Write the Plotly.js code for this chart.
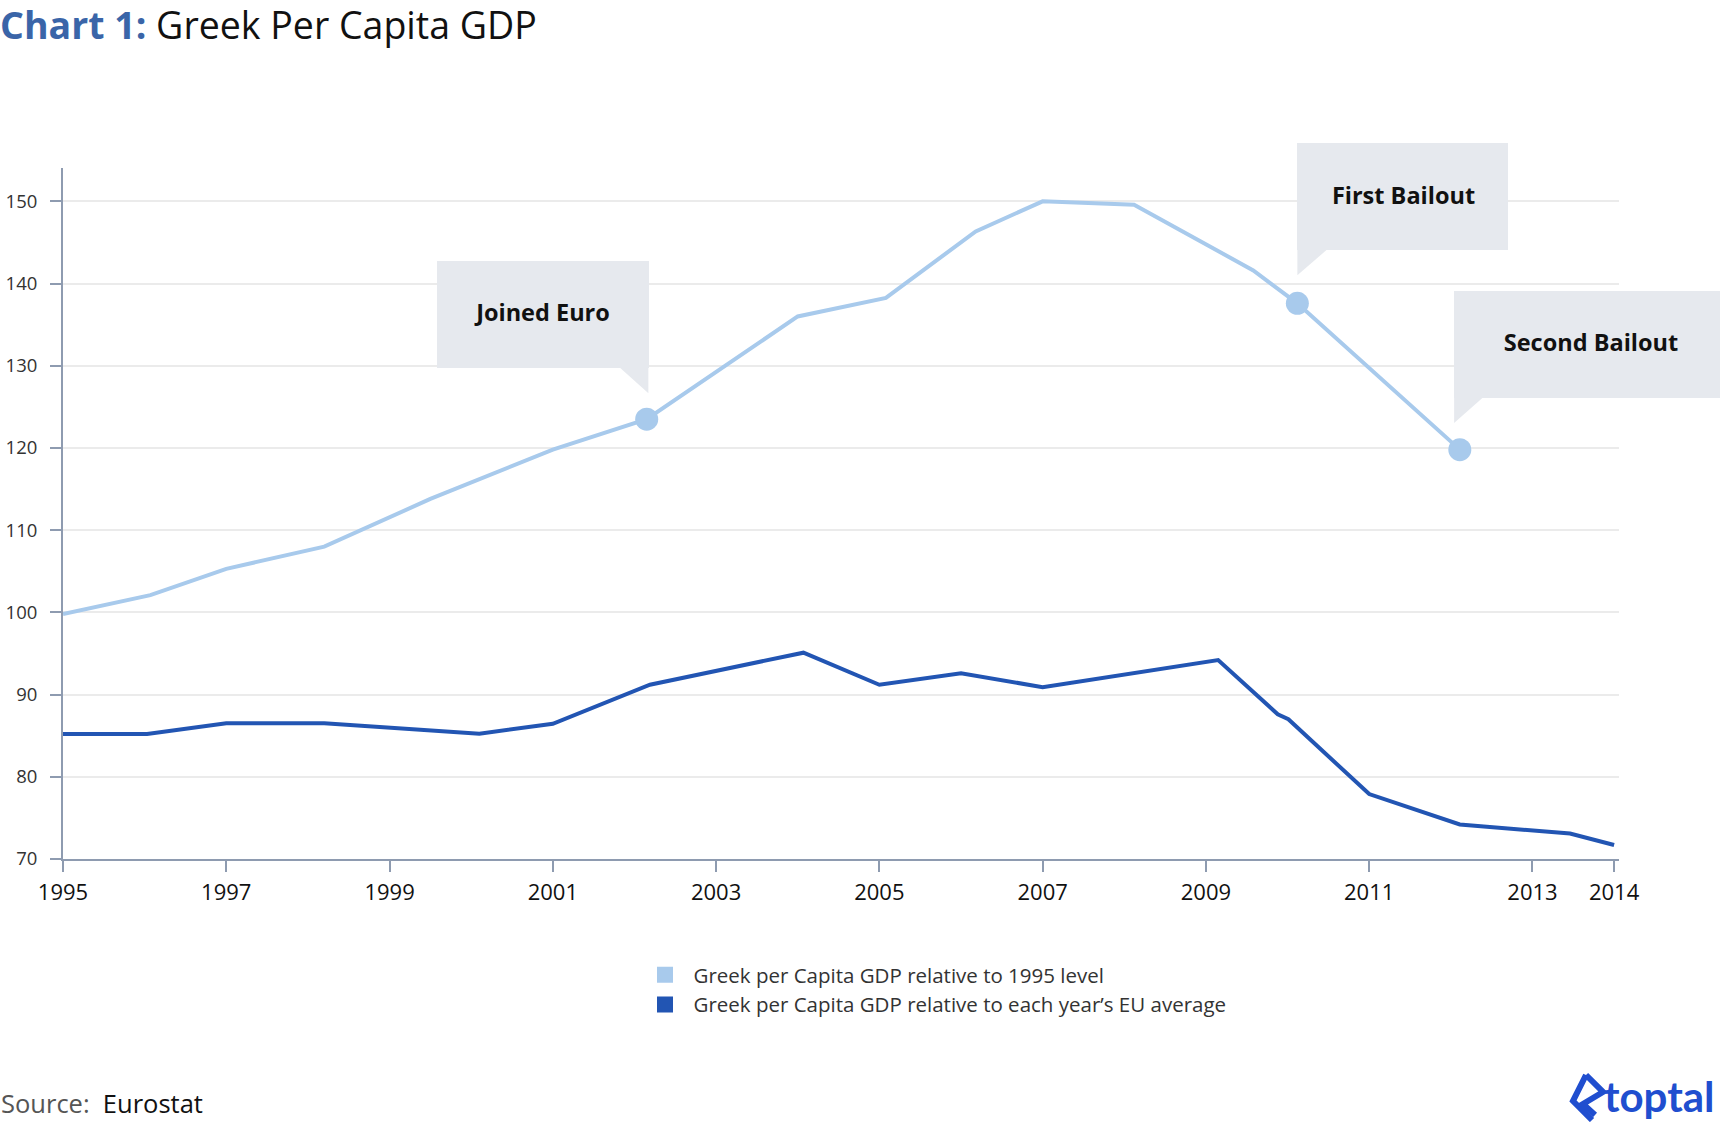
<!DOCTYPE html>
<html><head><meta charset="utf-8">
<script src="https://cdn.plot.ly/plotly-3.0.1.min.js"></script>
<style>html,body{margin:0;padding:0;background:#fff;} #chart{width:1720px;height:1122px;}</style>
</head><body><div id="chart"></div>
<script>
// ---- data ----
const lightYears  = [1995, 1996.07, 1997, 1998.2, 1999.5, 2001, 2002.15, 2004, 2005.08, 2006.18, 2007, 2008.12, 2009.58, 2010.12, 2012.11];
const lightValues = [99.8, 102.1, 105.3, 108.0, 113.8, 119.8, 123.5, 136.0, 138.25, 146.35, 150.0, 149.6, 141.6, 137.6, 119.8];
const darkYears   = [1995, 1996.03, 1997, 1998.2, 2000.1, 2001, 2002.19, 2004.07, 2005, 2006, 2007, 2009.15, 2009.88, 2010.01, 2011, 2012.11, 2013.46, 2014];
const darkValues  = [85.2, 85.2, 86.5, 86.5, 85.25, 86.45, 91.2, 95.1, 91.2, 92.6, 90.9, 94.2, 87.6, 87.0, 77.9, 74.2, 73.1, 71.7];
const eventLabels = ['Joined Euro', 'First Bailout', 'Second Bailout'];
const eventIndex  = [6, 13, 14];
const seriesNames = ['Greek per Capita GDP relative to 1995 level', 'Greek per Capita GDP relative to each year’s EU average'];
const xTickVals = [1995, 1997, 1999, 2001, 2003, 2005, 2007, 2009, 2011, 2013, 2014];
const xTickText = ['1995', '1997', '1999', '2001', '2003', '2005', '2007', '2009', '2011', '2013', '2014'];
const yTickVals = [70, 80, 90, 100, 110, 120, 130, 140, 150];
const yTickText = ['70', '80', '90', '100', '110', '120', '130', '140', '150'];

// ---- styles / layout ----
const W = 1720, H = 1122;
const M = {l: 63, r: 101, t: 168, b: 263, autoexpand: false};
const PW = W - M.l - M.r, PH = H - M.t - M.b;
const LIGHT = '#A8CAEC', DARK = '#2255B3', AXIS = '#8E9BB0', GRID = '#EBEBEB', BOX = '#E6E9EE';
const FONT = '"Open Sans", Lato, sans-serif';
const pxX = px => (px - M.l) / PW;          // pixel -> paper (decorations only)
const pxY = py => (H - M.b - py) / PH;

// callout geometry relative to the annotated point (pixels, +y = up)
const callouts = [
  {xanchor: 'right', xshift: 2,    yshift: 51,   width: 212, textShift: 3, tail: 'M-27.3,52L1.7,52L1.7,26Z'},
  {xanchor: 'left',  xshift: 0,    yshift: 53,   width: 211, textShift: 2, tail: 'M0,54L30,54L0,28Z'},
  {xanchor: 'left',  xshift: -5.7, yshift: 51.7, width: 272, textShift: 2, tail: 'M-5.7,52.7L23.7,52.7L-5.7,26.7Z'}
];
const BOXH = 107;

const evX = eventIndex.map(i => lightYears[i]);
const evY = eventIndex.map(i => lightValues[i]);

const traces = [
  {x: lightYears, y: lightValues, mode: 'lines', line: {color: LIGHT, width: 4}, showlegend: false, hoverinfo: 'skip'},
  {x: darkYears, y: darkValues, mode: 'lines', line: {color: DARK, width: 4}, showlegend: false, hoverinfo: 'skip'},
  {x: evX, y: evY, mode: 'markers', marker: {color: LIGHT, size: 23}, showlegend: false, hoverinfo: 'skip', cliponaxis: false},
  {x: [null], y: [null], mode: 'markers', name: seriesNames[0], marker: {symbol: 'square', size: 16, color: LIGHT}, legendgroup: 'a'},
  {x: [null], y: [null], mode: 'markers', name: seriesNames[1], marker: {symbol: 'square', size: 16, color: DARK}, legendgroup: 'b'}
];

const annotations = [];
eventLabels.forEach((t, k) => {
  const c = callouts[k];
  // box
  annotations.push({
    text: '&nbsp;', x: evX[k], y: evY[k], xref: 'x', yref: 'y',
    xanchor: c.xanchor, yanchor: 'bottom', xshift: c.xshift, yshift: c.yshift,
    width: c.width, height: BOXH, bgcolor: BOX, borderpad: 0, borderwidth: 0, showarrow: false,
    font: {family: FONT, size: 10, color: BOX}
  });
  // label
  annotations.push({
    text: '<b>' + t + '</b>', x: evX[k], y: evY[k], xref: 'x', yref: 'y',
    xanchor: c.xanchor, yanchor: 'middle', xshift: c.xshift, yshift: c.yshift + BOXH / 2 + c.textShift,
    width: c.width, showarrow: false, align: 'center', borderpad: 0,
    font: {family: FONT, size: 23.5, color: '#111'}
  });
});
annotations.push({
  text: '<span style="color:#555">Source:</span>&nbsp;&nbsp;Eurostat', xref: 'paper', yref: 'paper',
  x: pxX(0), y: pxY(1103), xanchor: 'left', yanchor: 'middle', showarrow: false, borderpad: 0,
  font: {family: FONT, size: 25.5, color: '#111'}
});
annotations.push({
  text: '<b>toptal</b>', xref: 'paper', yref: 'paper', x: pxX(1602), y: pxY(1096),
  xanchor: 'left', yanchor: 'middle', showarrow: false,
  font: {family: 'Lato, sans-serif', size: 42, color: '#204ECF'}
});

const shapes = eventLabels.map((t, k) => ({
  type: 'path', xref: 'x', yref: 'y', xsizemode: 'pixel', ysizemode: 'pixel',
  xanchor: evX[k], yanchor: evY[k], path: callouts[k].tail,
  fillcolor: BOX, line: {width: 0}, layer: 'above'
}));
// toptal icon (decoration)
const iconPts = [[1586,1075],[1573,1101],[1592,1120]];
const iconPts2 = [[1586,1075],[1603,1092],[1583,1104],[1595,1115]];
const toPath = pts => pts.map((p, i) => (i ? 'L' : 'M') + pxX(p[0]).toFixed(5) + ',' + pxY(p[1]).toFixed(5)).join('');
shapes.push({type: 'path', xref: 'paper', yref: 'paper', path: toPath(iconPts), line: {color: '#204ECF', width: 6}});
shapes.push({type: 'path', xref: 'paper', yref: 'paper', path: toPath(iconPts2), line: {color: '#204ECF', width: 6}});

const layout = {
  width: W, height: H, margin: M, paper_bgcolor: '#fff', plot_bgcolor: '#fff',
  font: {family: FONT, color: '#333'},
  title: {
    text: '<b><span style="color:#3A65A8">Chart 1:</span></b> Greek Per Capita GDP',
    xref: 'container', yref: 'container', x: 0, xanchor: 'left', y: 1 - 26 / H, yanchor: 'middle',
    font: {family: FONT, size: 37.5, color: '#111'}, pad: {l: 0, t: 0, r: 0, b: 0}
  },
  xaxis: {
    range: [1995, 2014.06], tickvals: xTickVals, ticktext: xTickText, tickangle: 0,
    showline: true, linecolor: AXIS, linewidth: 2, ticks: 'outside', ticklen: 11, tickwidth: 2, tickcolor: AXIS,
    showgrid: false, zeroline: false, tickfont: {family: FONT, size: 22, color: '#111'}, ticklabelstandoff: 2
  },
  yaxis: {
    range: [70, 154.06], tickvals: yTickVals, ticktext: yTickText,
    showline: true, linecolor: AXIS, linewidth: 2, ticks: 'outside', ticklen: 11, tickwidth: 2, tickcolor: AXIS,
    showgrid: true, gridcolor: GRID, gridwidth: 2, zeroline: false,
    tickfont: {family: FONT, size: 18.5, color: '#333'}, ticklabelstandoff: 9
  },
  legend: {
    xref: 'container', yref: 'container', x: 636.5 / W, y: 1 - 955 / H, xanchor: 'left', yanchor: 'top',
    orientation: 'v', font: {family: FONT, size: 20.5, color: '#333'}, bgcolor: 'rgba(0,0,0,0)',
    itemwidth: 47, tracegroupgap: 0
  },
  annotations: annotations, shapes: shapes, showlegend: true
};

Plotly.newPlot('chart', traces, layout, {displayModeBar: false, staticPlot: true});
</script></body></html>
